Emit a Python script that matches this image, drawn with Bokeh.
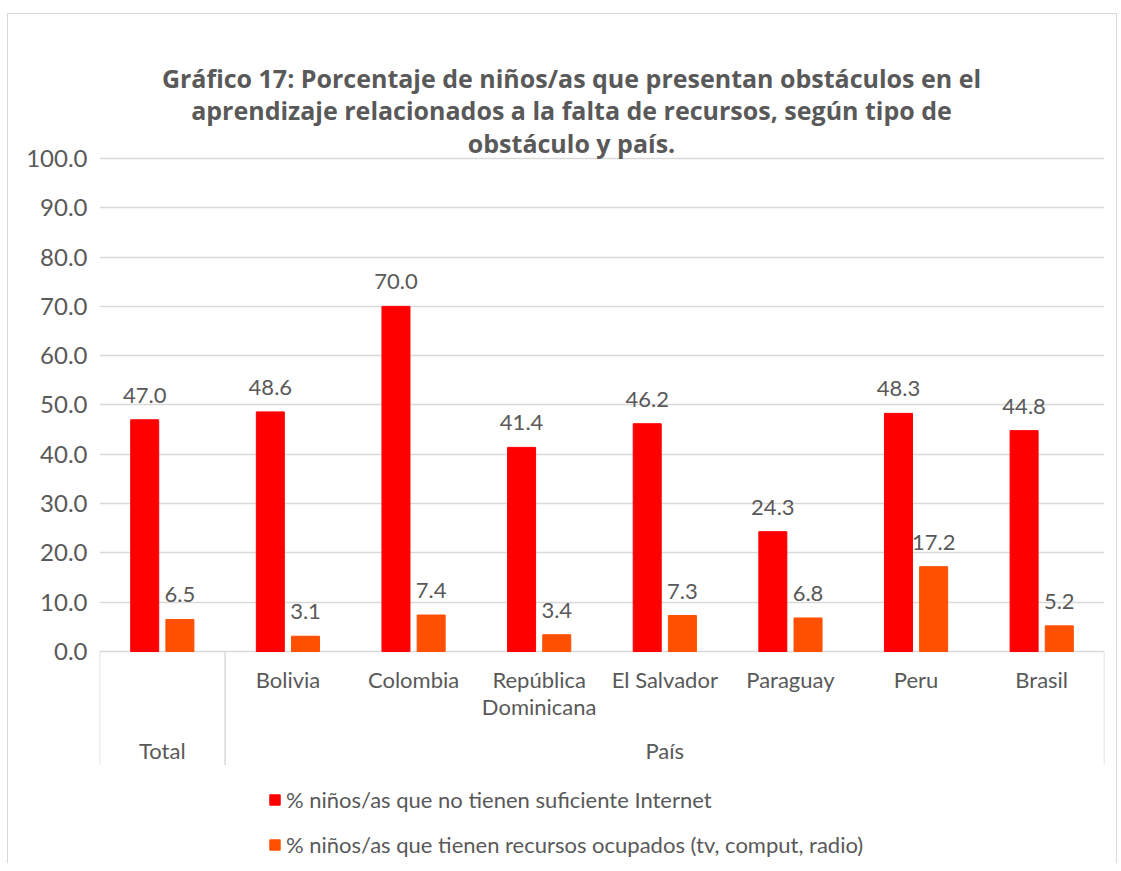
from bokeh.plotting import figure
from bokeh.models import (FactorRange, Range1d, ColumnDataSource, FixedTicker,
                          NumeralTickFormatter, Legend, LegendItem, Label)
from bokeh.transform import dodge
from bokeh.core.properties import value
from bokeh.embed import file_html
from bokeh.resources import INLINE

# ---- data ----
categories = ["Total", "Bolivia", "Colombia", "República Dominicana", "El Salvador", "Paraguay", "Peru", "Brasil"]
tick_labels = ["", "Bolivia", "Colombia", "República\nDominicana", "El Salvador", "Paraguay", "Peru", "Brasil"]
groups = ["Total", "País", "País", "País", "País", "País", "País", "País"]
internet = [47.0, 48.6, 70.0, 41.4, 46.2, 24.3, 48.3, 44.8]
recursos = [6.5, 3.1, 7.4, 3.4, 7.3, 6.8, 17.2, 5.2]
series_names = ["% niños/as que no tienen suficiente Internet",
                "% niños/as que tienen recursos ocupados (tv, comput, radio)"]
y_ticks = [0, 10, 20, 30, 40, 50, 60, 70, 80, 90, 100]
title_lines = ["Gráfico 17: Porcentaje de niños/as que presentan obstáculos en el",
               "aprendizaje relacionados a la falta de recursos, según tipo de",
               "obstáculo y país."]

FONT = "Lato"
TITLE_FONT = "Open Sans"
TXT = "#595959"
GRID = "#d9d9d9"
RED = "#FF0000"
ORANGE = "#FF5000"

source = ColumnDataSource(dict(
    cat=categories,
    lab=tick_labels,
    internet=internet,
    recursos=recursos,
    internet_lbl=[f"{v:.1f}" for v in internet],
    recursos_lbl=[f"{v:.1f}" for v in recursos],
    zero=[0] * len(categories),
))

p = figure(
    width=1110, height=850,
    x_range=FactorRange(*categories, range_padding=0),
    y_range=Range1d(-43.0, 129.0),
    output_backend="svg", toolbar_location=None,
    min_border_left=91, min_border_right=14, min_border_top=1, min_border_bottom=1,
)
p.margin = (13, 0, 0, 7)
p.styles = {"border-top": "1px solid #d9d9d9", "border-left": "1px solid #d9d9d9",
            "border-right": "1px solid #d9d9d9"}
p.outline_line_color = None
p.background_fill_color = "white"
p.border_fill_color = "white"

# title: one centred label per line, positioned in screen units from the frame
for i, line in enumerate(title_lines):
    p.add_layout(Label(x=472, y=786 - 32.5 * i, x_units="screen", y_units="screen",
                       text=line, text_align="center", text_baseline="middle",
                       text_font=TITLE_FONT, text_font_size="25px", text_font_style="bold",
                       text_color=TXT))

# axes
p.xaxis.visible = False
p.xgrid.visible = False
yax = p.yaxis[0]
yax.ticker = FixedTicker(ticks=y_ticks)
yax.formatter = NumeralTickFormatter(format="0.0")
yax.axis_line_color = None
yax.major_tick_line_color = None
yax.minor_tick_line_color = None
yax.major_label_text_font = FONT
yax.major_label_text_font_size = "24px"
yax.major_label_text_color = TXT
yax.major_label_standoff = 6
p.ygrid.grid_line_color = GRID
p.ygrid.grid_line_width = 1.5

# bars
r1 = p.vbar(x=dodge("cat", -0.14, range=p.x_range), top="internet", width=0.223,
            source=source, fill_color=RED, line_color=RED)
r2 = p.vbar(x=dodge("cat", 0.14, range=p.x_range), top="recursos", width=0.223,
            source=source, fill_color=ORANGE, line_color=ORANGE)

# data labels
for col, off in (("internet", -0.14), ("recursos", 0.14)):
    p.text(x=dodge("cat", off, range=p.x_range), y=col, text=col + "_lbl", source=source,
           text_font=value(FONT), text_font_size="22px", text_color=TXT,
           text_align="center", text_baseline="bottom", y_offset=-17)

# category labels
p.text(x="cat", y="zero", text="lab", source=source,
       text_font=value(FONT), text_font_size="22px", text_color=TXT,
       text_align="center", text_baseline="top", y_offset=14, text_line_height=1.0)

# group labels
pais = [c for c, g in zip(categories, groups) if g == "País"]
grp_src = ColumnDataSource(dict(
    cat=[categories[0], pais[len(pais) // 2]],
    lab=[groups[0], "País"],
    zero=[0, 0],
))
p.text(x="cat", y="zero", text="lab", source=grp_src,
       text_font=value(FONT), text_font_size="22px", text_color=TXT,
       text_align="center", text_baseline="top", y_offset=85)

# separators of the category axis
sep_bottom = -23
sep_left = ColumnDataSource(dict(cat=[categories[0], pais[0]]))
sep_right = ColumnDataSource(dict(cat=[categories[-1]]))
p.segment(x0=dodge("cat", -0.5, range=p.x_range), y0=0,
          x1=dodge("cat", -0.5, range=p.x_range), y1=sep_bottom,
          source=sep_left, line_color=GRID, line_width=1.5)
p.segment(x0=dodge("cat", 0.5, range=p.x_range), y0=0,
          x1=dodge("cat", 0.5, range=p.x_range), y1=sep_bottom,
          source=sep_right, line_color=GRID, line_width=1.5)

# legend (inside the frame, below the category labels)
legend = Legend(items=[LegendItem(label=series_names[0], renderers=[r1]),
                       LegendItem(label=series_names[1], renderers=[r2])],
                orientation="vertical", location=(169, 5),
                label_text_font=FONT, label_text_font_size="22px", label_text_color=TXT,
                glyph_width=13, glyph_height=13, label_height=22, spacing=18,
                padding=4, margin=0, label_standoff=5, border_line_color=None,
                background_fill_alpha=0)
p.add_layout(legend)

open("out.html", "w").write(file_html(p, INLINE))
